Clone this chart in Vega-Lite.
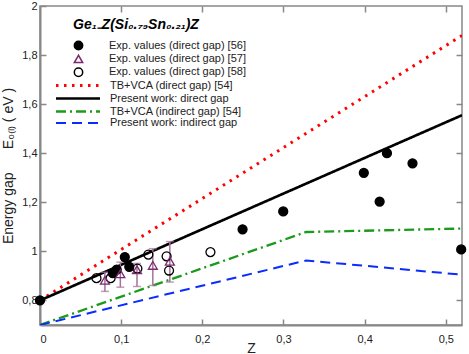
{
  "$schema": "https://vega.github.io/schema/vega-lite/v6.json",
  "width": 422,
  "height": 319,
  "autosize": "none",
  "padding": {"left": 40, "top": 6, "right": 7, "bottom": 29},
  "background": "white",
  "config": {
    "font": "Liberation Sans",
    "view": {"stroke": "#888", "strokeWidth": 1.5},
    "axis": {
      "grid": false,
      "domainColor": "#888",
      "domainWidth": 2,
      "tickColor": "#888",
      "tickWidth": 1.5,
      "tickSize": -6,
      "labelColor": "#222",
      "labelFontSize": 11,
      "labelFont": "Liberation Sans",
      "titleFont": "Liberation Sans",
      "titleColor": "#222",
      "titleFontWeight": "normal"
    },
    "legend": {
      "labelFont": "Liberation Sans",
      "labelFontSize": 11,
      "labelColor": "#222",
      "padding": 0,
      "titleFont": "Liberation Sans",
      "titleFontSize": 14,
      "titleFontStyle": "italic",
      "titleFontWeight": "bold",
      "titleColor": "#000",
      "titleAnchor": "start",
      "titlePadding": 8,
      "titleLimit": 300
    }
  },
  "datasets": {
    "lines": [
      {"line": "TB+VCA (direct gap) [54]", "z": 0, "E": 0.8},
      {"line": "TB+VCA (direct gap) [54]", "z": 0.52, "E": 1.88},
      {"line": "Present work: direct gap", "z": 0, "E": 0.8},
      {"line": "Present work: direct gap", "z": 0.52, "E": 1.555},
      {"line": "TB+VCA (indirect gap) [54]", "z": 0, "E": 0.7},
      {"line": "TB+VCA (indirect gap) [54]", "z": 0.328, "E": 1.079},
      {"line": "TB+VCA (indirect gap) [54]", "z": 0.52, "E": 1.093},
      {"line": "Present work: indirect gap", "z": 0, "E": 0.7},
      {"line": "Present work: indirect gap", "z": 0.328, "E": 0.963},
      {"line": "Present work: indirect gap", "z": 0.52, "E": 0.905}
    ],
    "tri": [
      {"z": 0.08, "E": 0.882, "lo": 0.837, "hi": 0.915},
      {"z": 0.099, "E": 0.909, "lo": 0.854, "hi": 0.956},
      {"z": 0.1195, "E": 0.925, "lo": 0.857, "hi": 0.951},
      {"z": 0.139, "E": 0.943, "lo": 0.861, "hi": 1.011},
      {"z": 0.16, "E": 0.96, "lo": 0.875, "hi": 1.04}
    ],
    "pts": [
      {"series": "Exp. values (direct gap) [56]", "z": 0, "E": 0.8},
      {"series": "Exp. values (direct gap) [56]", "z": 0.0897, "E": 0.911},
      {"series": "Exp. values (direct gap) [56]", "z": 0.0945, "E": 0.926},
      {"series": "Exp. values (direct gap) [56]", "z": 0.1045, "E": 0.977},
      {"series": "Exp. values (direct gap) [56]", "z": 0.11, "E": 0.937},
      {"series": "Exp. values (direct gap) [56]", "z": 0.2496, "E": 1.09},
      {"series": "Exp. values (direct gap) [56]", "z": 0.2997, "E": 1.163},
      {"series": "Exp. values (direct gap) [56]", "z": 0.399, "E": 1.32},
      {"series": "Exp. values (direct gap) [56]", "z": 0.4185, "E": 1.203},
      {"series": "Exp. values (direct gap) [56]", "z": 0.4275, "E": 1.4},
      {"series": "Exp. values (direct gap) [56]", "z": 0.459, "E": 1.359},
      {"series": "Exp. values (direct gap) [56]", "z": 0.519, "E": 1.008},
      {"series": "Exp. values (direct gap) [58]", "z": 0.0696, "E": 0.891},
      {"series": "Exp. values (direct gap) [58]", "z": 0.087, "E": 0.891},
      {"series": "Exp. values (direct gap) [58]", "z": 0.12, "E": 0.93},
      {"series": "Exp. values (direct gap) [58]", "z": 0.1335, "E": 0.987},
      {"series": "Exp. values (direct gap) [58]", "z": 0.156, "E": 0.98},
      {"series": "Exp. values (direct gap) [58]", "z": 0.159, "E": 0.922},
      {"series": "Exp. values (direct gap) [58]", "z": 0.21, "E": 0.997},
      {"series": "Exp. values (direct gap) [57]", "z": 0.08, "E": 0.882},
      {"series": "Exp. values (direct gap) [57]", "z": 0.099, "E": 0.909},
      {"series": "Exp. values (direct gap) [57]", "z": 0.1195, "E": 0.925},
      {"series": "Exp. values (direct gap) [57]", "z": 0.139, "E": 0.943},
      {"series": "Exp. values (direct gap) [57]", "z": 0.16, "E": 0.96}
    ]
  },
  "resolve": {"axis": {"x": "independent", "y": "independent"}},
  "layer": [
    {
      "data": {"name": "lines"},
      "mark": {"type": "line", "clip": true},
      "encoding": {
        "x": {
          "field": "z", "type": "quantitative",
          "scale": {"domain": [0, 0.52], "nice": false, "zero": false},
          "axis": {
            "orient": "bottom",
            "values": [0, 0.1, 0.2, 0.3, 0.4, 0.5],
            "labelExpr": "replace(format(datum.value, '~g'), '.', ',')",
            "labelPadding": 14,
            "title": "Z",
            "titleFontSize": 14,
            "titlePadding": -3
          }
        },
        "y": {
          "field": "E", "type": "quantitative",
          "scale": {"domain": [0.7, 2], "nice": false, "zero": false},
          "axis": {
            "orient": "left",
            "values": [0.8, 1, 1.2, 1.4, 1.6, 1.8, 2],
            "labelExpr": "replace(format(datum.value, '~g'), '.', ',')",
            "labelPadding": 9,
            "title": "Energy gap\u00a0\u00a0\u00a0\u00a0\u00a0\u00a0E₀₍ₗ₎\u00a0(\u00a0eV\u00a0)",
            "titleFontSize": 14,
            "titlePadding": 6
          }
        },
        "color": {
          "field": "line", "type": "nominal",
          "scale": {
            "domain": ["TB+VCA (direct gap) [54]", "Present work: direct gap", "TB+VCA (indirect gap) [54]", "Present work: indirect gap"],
            "range": ["#ff0000", "#000000", "#1c9a1c", "#0a2cff"]
          },
          "legend": {
            "orient": "none", "legendX": 31, "legendY": 72.5, "title": null,
            "symbolType": "M-4,0H4", "symbolSize": 121, "symbolStrokeWidth": 2.5, "labelOffset": 25, "rowPadding": -1.6
          }
        },
        "strokeDash": {
          "field": "line", "type": "nominal",
          "scale": {
            "domain": ["TB+VCA (direct gap) [54]", "Present work: direct gap", "TB+VCA (indirect gap) [54]", "Present work: indirect gap"],
            "range": [[2.5, 5.5], [1, 0], [10, 4, 2, 4], [10, 6]]
          },
          "legend": {
            "orient": "none", "legendX": 31, "legendY": 72.5, "title": null,
            "symbolType": "M-4,0H4", "symbolSize": 121, "symbolStrokeWidth": 2.5, "labelOffset": 25, "rowPadding": -1.6
          }
        },
        "strokeWidth": {
          "field": "line", "type": "nominal",
          "scale": {
            "domain": ["TB+VCA (direct gap) [54]", "Present work: direct gap", "TB+VCA (indirect gap) [54]", "Present work: indirect gap"],
            "range": [3, 2, 2, 2.5]
          },
          "legend": null
        }
      }
    },
    {
      "data": {"name": "tri"},
      "mark": {"type": "errorbar", "ticks": {"size": 8, "thickness": 1.5}, "color": "#a5729a", "thickness": 1.5},
      "encoding": {
        "x": {"field": "z", "type": "quantitative", "axis": null},
        "y": {"field": "lo", "type": "quantitative", "axis": null},
        "y2": {"field": "hi"}
      }
    },
    {
      "data": {"name": "pts"},
      "mark": {"type": "point", "opacity": 1, "size": 80, "strokeWidth": 1.3},
      "encoding": {
        "x": {
          "field": "z", "type": "quantitative",
          "axis": {"orient": "top", "values": [0.1, 0.2, 0.3, 0.4, 0.5], "labels": false, "domain": false, "title": null}
        },
        "y": {
          "field": "E", "type": "quantitative",
          "axis": {"orient": "right", "values": [0.8, 1, 1.2, 1.4, 1.6, 1.8], "labels": false, "domain": false, "title": null}
        },
        "shape": {
          "field": "series", "type": "nominal",
          "scale": {
            "domain": ["Exp. values (direct gap) [56]", "Exp. values (direct gap) [57]", "Exp. values (direct gap) [58]"],
            "range": ["circle", "triangle-up", "circle"]
          },
          "legend": {
            "orient": "none", "legendX": 33, "legendY": 12, "title": "Ge₁₋Z(Si₀.₇₉Sn₀.₂₁)Z",
            "symbolSize": 70, "labelOffset": 25, "rowPadding": -1.6
          }
        },
        "fill": {
          "field": "series", "type": "nominal",
          "scale": {
            "domain": ["Exp. values (direct gap) [56]", "Exp. values (direct gap) [57]", "Exp. values (direct gap) [58]"],
            "range": ["#000000", "transparent", "transparent"]
          },
          "legend": {
            "orient": "none", "legendX": 33, "legendY": 12, "title": "Ge₁₋Z(Si₀.₇₉Sn₀.₂₁)Z",
            "symbolSize": 70, "labelOffset": 25, "rowPadding": -1.6
          }
        },
        "stroke": {
          "field": "series", "type": "nominal",
          "scale": {
            "domain": ["Exp. values (direct gap) [56]", "Exp. values (direct gap) [57]", "Exp. values (direct gap) [58]"],
            "range": ["#000000", "#7a2a6e", "#000000"]
          },
          "legend": {
            "orient": "none", "legendX": 33, "legendY": 12, "title": "Ge₁₋Z(Si₀.₇₉Sn₀.₂₁)Z",
            "symbolSize": 70, "labelOffset": 25, "rowPadding": -1.6
          }
        }
      }
    }
  ]
}
